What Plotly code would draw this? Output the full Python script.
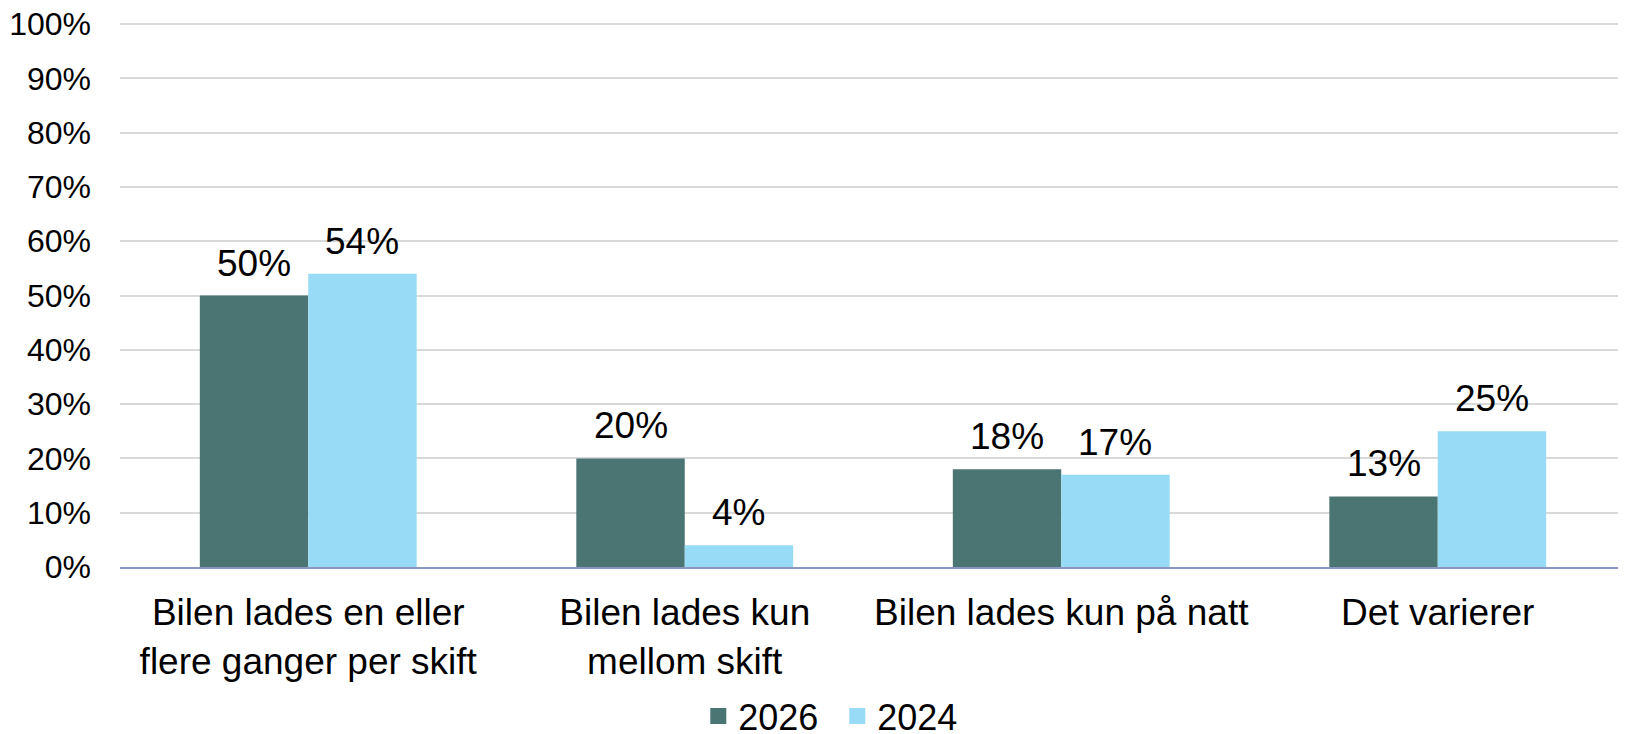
import plotly.graph_objects as go

categories = [
    "Bilen lades en eller<br>flere ganger per skift",
    "Bilen lades kun<br>mellom skift",
    "Bilen lades kun på natt",
    "Det varierer",
]
series_names = ["2026", "2024"]
values_2026 = [0.50, 0.20, 0.18, 0.13]
values_2024 = [0.54, 0.04, 0.17, 0.25]
colors = ["#4A7573", "#97DBF7"]
y_ticks = [i / 10 for i in range(11)]

FONT = "Liberation Sans, Arial, sans-serif"

fig = go.Figure()
all_vals = [values_2026, values_2024]
for name, vals, col in zip(series_names, all_vals, colors):
    fig.add_trace(go.Bar(
        x=categories, y=vals, name=name, marker_color=col,
        marker_line_width=0, showlegend=False,
    ))
    # legend proxy with a larger square icon
    fig.add_trace(go.Scatter(
        x=[None], y=[None], mode="markers", name=name,
        marker=dict(symbol="square", size=18, color=col),
    ))

# value labels above bars
annotations = []
shifts = [-54, 54]
for vals, sh in zip(all_vals, shifts):
    for c, v in zip(categories, vals):
        annotations.append(dict(
            x=c, y=v, xref="x", yref="y", text=f"{round(v*100)}%",
            showarrow=False, xshift=sh, yshift=10, yanchor="bottom",
            font=dict(size=37, color="#000000", family=FONT),
        ))

# the page body adds an 8px offset; size the figure to fill the window
fig.update_layout(
    width=1618, height=726,
    margin=dict(l=112, r=0, t=15, b=167, autoexpand=False),
    paper_bgcolor="white", plot_bgcolor="white",
    barmode="group", bargap=0.424, bargroupgap=0,
    font=dict(family=FONT, color="#000000"),
    annotations=annotations,
    legend=dict(
        orientation="h", x=0.384, xanchor="left", y=-0.274, yanchor="middle",
        font=dict(size=36, family=FONT), itemwidth=30,
        entrywidth=94, entrywidthmode="pixels",
        bgcolor="rgba(0,0,0,0)",
    ),
    xaxis=dict(
        showline=True, linecolor="#8C97C0", linewidth=2,
        showgrid=False, ticks="", tickfont=dict(size=37, family=FONT),
        ticklabelstandoff=12, automargin=False,
    ),
    yaxis=dict(
        range=[0, 1.002], tickvals=y_ticks, tickformat=".0%",
        showgrid=True, gridcolor="#D9D9D9", gridwidth=2,
        zeroline=False, showline=False, ticks="",
        tickfont=dict(size=32, family=FONT), ticklabelstandoff=28,
        ticklabeloverflow="allow", automargin=False,
    ),
)

fig.write_html("out.html")
